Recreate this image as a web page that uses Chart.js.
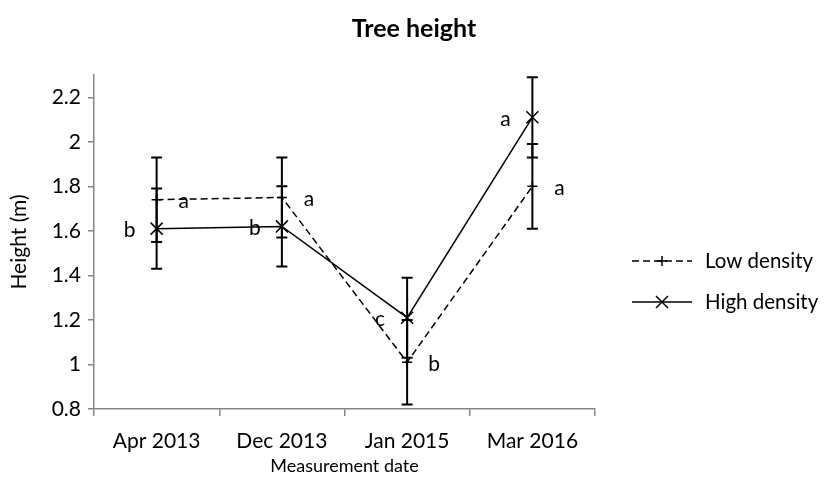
<!DOCTYPE html>
<html>
<head>
<meta charset="utf-8">
<script src="https://cdn.jsdelivr.net/npm/chart.js@4.4.0/dist/chart.umd.min.js"></script>
<style>
html,body{margin:0;padding:0;background:#fff;}
#wrap{width:826px;height:490px;}
</style>
</head>
<body>
<div id="wrap"><canvas id="c" width="826" height="490"></canvas></div>
<script>
const categories = ['Apr 2013', 'Dec 2013', 'Jan 2015', 'Mar 2016'];
const lowDensity = [1.74, 1.75, 1.01, 1.80];
const lowErr = [0.19, 0.18, 0.19, 0.19];
const highDensity = [1.61, 1.62, 1.21, 2.11];
const highErr = [0.18, 0.18, 0.18, 0.18];
const lowLetters = ['a', 'a', 'b', 'a'];
const highLetters = ['b', 'b', 'c', 'a'];
const yTicks = [0.8, 1, 1.2, 1.4, 1.6, 1.8, 2, 2.2];
const seriesNames = ['Low density', 'High density'];
const chartTitle = 'Tree height';

const FONT = 'Lato, "Liberation Sans", sans-serif';
const AXIS = '#868686';

const titlePlugin = {
  id: 'titlePlugin',
  afterDraw(chart) {
    const ctx = chart.ctx;
    ctx.save();
    ctx.fillStyle = '#000';
    ctx.font = 'bold 25px ' + FONT;
    ctx.textAlign = 'center';
    ctx.textBaseline = 'middle';
    ctx.fillText(chartTitle, 414, 29);
    ctx.restore();
  }
};

const errorBars = {
  id: 'errorBars',
  afterDatasetsDraw(chart) {
    const ctx = chart.ctx, y = chart.scales.y;
    const errs = [lowErr, highErr];
    ctx.save();
    ctx.strokeStyle = '#000';
    ctx.lineWidth = 2;
    chart.data.datasets.forEach((ds, i) => {
      const meta = chart.getDatasetMeta(i);
      meta.data.forEach((pt, j) => {
        const v = ds.data[j], e = errs[i][j];
        const x = pt.x, y1 = y.getPixelForValue(v + e), y2 = y.getPixelForValue(v - e);
        ctx.beginPath();
        ctx.moveTo(x, y1); ctx.lineTo(x, y2);
        ctx.moveTo(x - 5.5, y1); ctx.lineTo(x + 5.5, y1);
        ctx.moveTo(x - 5.5, y2); ctx.lineTo(x + 5.5, y2);
        ctx.stroke();
      });
    });
    ctx.restore();
  }
};

const letters = {
  id: 'letters',
  afterDatasetsDraw(chart) {
    const ctx = chart.ctx;
    const sets = [[lowLetters, 27], [highLetters, -27]];
    ctx.save();
    ctx.fillStyle = '#000';
    ctx.font = '21px ' + FONT;
    ctx.textAlign = 'center';
    ctx.textBaseline = 'middle';
    sets.forEach(([arr, dx], i) => {
      chart.getDatasetMeta(i).data.forEach((pt, j) => {
        ctx.fillText(arr[j], pt.x + dx, pt.y + 2);
      });
    });
    ctx.restore();
  }
};

const customLegend = {
  id: 'customLegend',
  afterDraw(chart) {
    const ctx = chart.ctx;
    const x0 = 632, x1 = 692, tx = 705;
    const ys = [261, 302];
    ctx.save();
    chart.data.datasets.forEach((ds, i) => {
      const yy = ys[i];
      ctx.strokeStyle = '#000';
      ctx.lineWidth = 1.5;
      ctx.setLineDash(ds.borderDash || []);
      ctx.beginPath(); ctx.moveTo(x0, yy); ctx.lineTo(x1, yy); ctx.stroke();
      ctx.setLineDash([]);
      Chart.helpers.drawPoint(ctx, {pointStyle: ds.pointStyle, radius: ds.pointRadius, borderWidth: 1.5}, (x0 + x1) / 2, yy);
      ctx.fillStyle = '#000';
      ctx.font = '20.5px ' + FONT;
      ctx.textAlign = 'left';
      ctx.textBaseline = 'middle';
      ctx.fillText(ds.label, tx, yy);
    });
    ctx.restore();
  }
};

new Chart(document.getElementById('c'), {
  type: 'line',
  data: {
    labels: categories,
    datasets: [
      {
        label: seriesNames[0],
        data: lowDensity,
        borderColor: '#000',
        backgroundColor: '#000',
        borderWidth: 1.5,
        borderDash: [7, 4],
        pointStyle: 'cross',
        pointRadius: 5,
        pointBorderWidth: 1.5,
        tension: 0
      },
      {
        label: seriesNames[1],
        data: highDensity,
        borderColor: '#000',
        backgroundColor: '#000',
        borderWidth: 1.5,
        pointStyle: 'crossRot',
        pointRadius: 8.5,
        pointBorderWidth: 1.5,
        tension: 0
      }
    ]
  },
  options: {
    responsive: false,
    animation: false,
    layout: { padding: { left: 0, right: 231, top: 75, bottom: 0 } },
    plugins: {
      legend: { display: false },
      tooltip: { enabled: false },
      title: { display: false }
    },
    scales: {
      x: {
        offset: true,
        grid: { offset: true, drawOnChartArea: false, drawTicks: true, tickLength: 7, color: AXIS, lineWidth: 1.5 },
        border: { display: true, color: AXIS, width: 1.5 },
        ticks: { color: '#000', font: { family: FONT, size: 21 }, padding: 13, maxRotation: 0 },
        title: { display: true, text: 'Measurement date', color: '#000', font: { family: FONT, size: 18 }, padding: { top: 4, bottom: 13 } },
        afterFit(s) { s.height = 81; }
      },
      y: {
        min: 0.8,
        max: 2.3,
        afterBuildTicks(s) { s.ticks = yTicks.map(v => ({ value: v })); },
        grid: { drawOnChartArea: false, drawTicks: true, tickLength: 6, color: AXIS, lineWidth: 1.5 },
        border: { display: true, color: AXIS, width: 1.5 },
        ticks: { color: '#000', font: { family: FONT, size: 21 }, padding: 7, callback: v => String(v) },
        title: { display: true, text: 'Height (m)', color: '#000', font: { family: FONT, size: 21 }, padding: { top: 7, bottom: 4 } },
        afterFit(s) { s.width = 94; }
      }
    }
  },
  plugins: [errorBars, letters, customLegend, titlePlugin]
});
</script>
</body>
</html>
